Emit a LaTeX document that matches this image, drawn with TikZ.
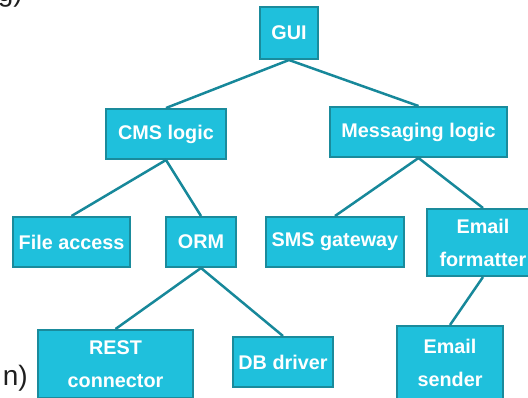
\documentclass[tikz,border=0pt]{standalone}
\usepackage{fontspec}
\setmainfont{Liberation Sans}
\definecolor{boxfill}{HTML}{1FC0DC}
\definecolor{boxedge}{HTML}{1A8B9C}
\definecolor{linecol}{HTML}{17889A}
\begin{document}
\begin{tikzpicture}[x=1pt,y=-1pt,
  box/.style={draw=boxedge, line width=2pt, fill=boxfill, inner sep=0pt, text=white,
    font=\fontsize{19.8}{33}\selectfont\bfseries, align=center},
  link/.style={draw=linecol, line width=2.5pt},
  frag/.style={anchor=base east, inner sep=0pt, text=black!88, font=\fontsize{28}{30}\selectfont}]
\useasboundingbox (0,0) rectangle (528,397);
\clip (0,0) rectangle (528,397);
\node[box, minimum width=58pt, minimum height=52pt] (gui) at (289,33) {GUI};
\node[box, minimum width=120pt, minimum height=50pt] (cms) at (166,134) {CMS logic};
\node[box, minimum width=177pt, minimum height=50pt] (msg) at (418.5,132) {Messaging logic};
\node[box, minimum width=117pt, minimum height=50pt] (file) at (71.5,242) {File access};
\node[box, minimum width=70pt, minimum height=50pt] (orm) at (201,242) {ORM};
\node[box, minimum width=138pt, minimum height=50pt] (sms) at (335,242) {SMS gateway};
\node[box, minimum width=112pt, minimum height=67pt] (fmt) at (483,242.5) {Email\\formatter};
\node[box, minimum width=155pt, minimum height=68pt] (rest) at (115.5,364) {REST\\connector};
\node[box, minimum width=100pt, minimum height=50pt] (db) at (283,362) {DB driver};
\node[box, minimum width=106pt, minimum height=74pt] (snd) at (450,363) {Email\\sender};
\draw[link] (gui.south) -- (cms.north);
\draw[link] (gui.south) -- (msg.north);
\draw[link] (cms.south) -- (file.north);
\draw[link] (cms.south) -- (orm.north);
\draw[link] (msg.south) -- (sms.north);
\draw[link] (msg.south) -- (fmt.north);
\draw[link] (orm.south) -- (rest.north);
\draw[link] (orm.south) -- (db.north);
\draw[link] (fmt.south) -- (snd.north);
\node[frag] (fragtop) at (23,1.5) {g)};
\node[frag] (fragbot) at (28,385) {n)};
\end{tikzpicture}
\end{document}
